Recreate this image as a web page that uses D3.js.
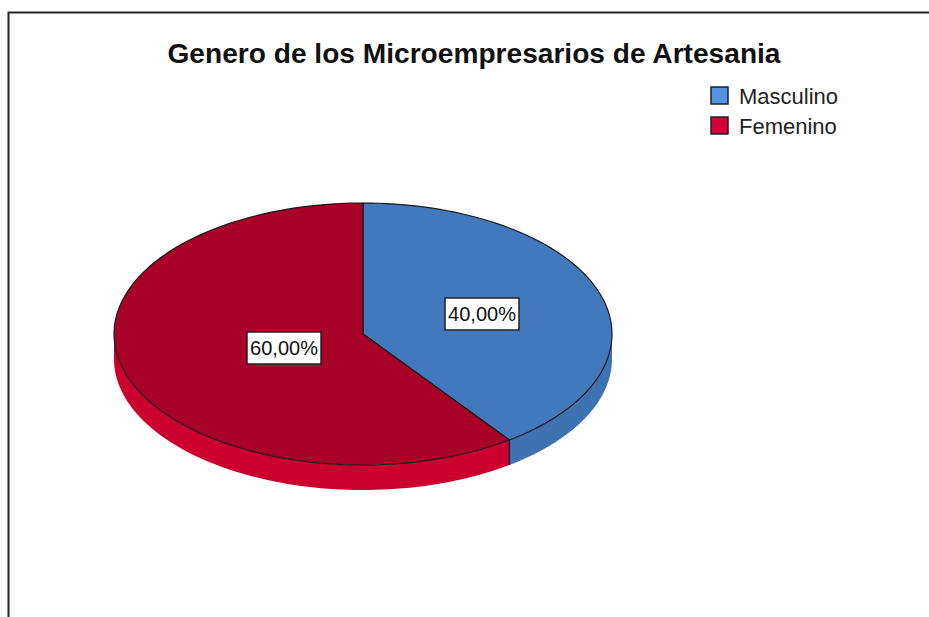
<!DOCTYPE html>
<html>
<head>
<meta charset="utf-8">
<script src="https://cdn.jsdelivr.net/npm/d3@7"></script>
<style>
body { margin: 0; background: #fff; }
text { font-family: "Liberation Sans", Arial, sans-serif; }
</style>
</head>
<body>
<script>
var categories = ["Masculino", "Femenino"];
var values = [40, 60];
var labels = ["40,00%", "60,00%"];
var topColors = ["#4279bd", "#a90027"];
var sideColors = ["#3f72b0", "#cc002e"];
var legendColors = ["#5592e0", "#d4003a"];

var width = 929, height = 617;
var cx = 363, cy = 334, rx = 249, ry = 131, depth = 25;

var svg = d3.select("body").append("svg")
	.attr("width", width)
	.attr("height", height);

// marco
svg.append("rect")
	.attr("x", 8.5).attr("y", 12.5)
	.attr("width", 1000).attr("height", 700)
	.attr("fill", "none")
	.attr("stroke", "#222")
	.attr("stroke-width", 2);

svg.append("text")
	.attr("x", 474).attr("y", 63)
	.attr("text-anchor", "middle")
	.attr("font-size", 27)
	.attr("font-weight", "bold")
	.attr("fill", "#111")
	.attr("textLength", 613)
	.attr("lengthAdjust", "spacingAndGlyphs")
	.text("Genero de los Microempresarios de Artesania");

var pie = d3.pie().sort(null).value(function (d) { return d; });
var arcs = pie(values);

// punto sobre la elipse (angulo desde arriba, sentido horario)
function pt(a, dy) {
	return [cx + rx * Math.sin(a), cy - ry * Math.cos(a) + (dy || 0)];
}

function topPath(d) {
	var p = d3.path();
	p.moveTo(cx, cy);
	var n = 80;
	for (var i = 0; i <= n; i++) {
		var a = d.startAngle + (d.endAngle - d.startAngle) * i / n;
		var q = pt(a);
		p.lineTo(q[0], q[1]);
	}
	p.closePath();
	return p.toString();
}

function sidePath(d) {
	var a0 = Math.max(d.startAngle, Math.PI / 2);
	var a1 = Math.min(d.endAngle, Math.PI * 3 / 2);
	if (a1 <= a0) return null;
	var pts = [], n = 80, i;
	for (i = 0; i <= n; i++) pts.push(pt(a0 + (a1 - a0) * i / n));
	for (i = n; i >= 0; i--) pts.push(pt(a0 + (a1 - a0) * i / n, depth));
	return d3.line()(pts) + "Z";
}

svg.selectAll("path.side")
	.data(arcs)
	.enter()
	.append("path")
	.attr("class", "side")
	.attr("d", sidePath)
	.attr("fill", function (d, i) { return sideColors[i]; })
	.attr("stroke", "none");

// borde donde cambia de color en el lado
arcs.forEach(function (d) {
	if (d.endAngle > Math.PI / 2 && d.endAngle < Math.PI * 3 / 2) {
		var q = pt(d.endAngle);
		svg.append("line")
			.attr("x1", q[0]).attr("y1", q[1])
			.attr("x2", q[0]).attr("y2", q[1] + depth)
			.attr("stroke", "#222").attr("stroke-width", 1.5);
	}
});

svg.selectAll("path.top")
	.data(arcs)
	.enter()
	.append("path")
	.attr("class", "top")
	.attr("d", topPath)
	.attr("fill", function (d, i) { return topColors[i]; })
	.attr("stroke", "#1a1a1a")
	.attr("stroke-width", 1.2)
	.attr("stroke-linejoin", "round");

// etiquetas
var labelPos = [[482, 314], [284, 348]];
var lab = svg.selectAll("g.lab")
	.data(arcs)
	.enter()
	.append("g")
	.attr("class", "lab")
	.attr("transform", function (d, i) { return "translate(" + labelPos[i][0] + "," + labelPos[i][1] + ")"; });

lab.append("rect")
	.attr("x", -37).attr("y", -16)
	.attr("width", 74).attr("height", 32)
	.attr("fill", "#fff")
	.attr("stroke", "#222")
	.attr("stroke-width", 1.5);

lab.append("text")
	.attr("text-anchor", "middle")
	.attr("y", 7)
	.attr("font-size", 20)
	.attr("fill", "#111")
	.text(function (d, i) { return labels[i]; });

// leyenda
var leg = svg.selectAll("g.leg")
	.data(categories)
	.enter()
	.append("g")
	.attr("class", "leg")
	.attr("transform", function (d, i) { return "translate(711," + (87 + i * 30) + ")"; });

leg.append("rect")
	.attr("width", 17).attr("height", 17)
	.attr("fill", function (d, i) { return legendColors[i]; })
	.attr("stroke", "#222")
	.attr("stroke-width", 1.5);

leg.append("text")
	.attr("x", 28).attr("y", 17)
	.attr("font-size", 22)
	.attr("fill", "#222")
	.text(function (d) { return d; });
</script>
</body>
</html>
